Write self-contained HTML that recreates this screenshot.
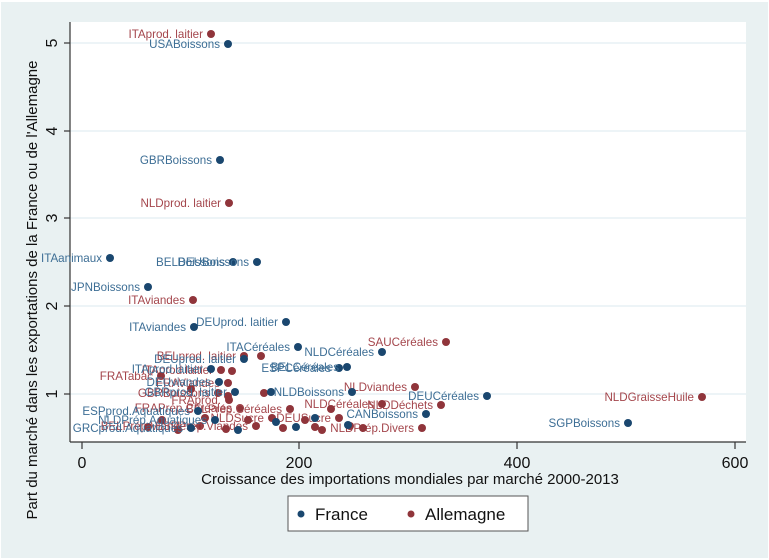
<!DOCTYPE html>
<html><head><meta charset="utf-8"><style>
html,body{margin:0;padding:0;background:#fff}
svg{display:block}
text{font-family:"Liberation Sans",Arial,sans-serif}
.lb{fill:#3d6e95;font-size:11.6px}
.lr{fill:#a4464c;font-size:11.6px}
</style></head><body>
<svg width="769" height="560" viewBox="0 0 769 560" xmlns="http://www.w3.org/2000/svg">
<rect x="1" y="2" width="767" height="556" fill="#e9f1f2"/>
<rect x="70" y="22" width="676" height="420" fill="#fff"/>
<g stroke="#e2eef2" stroke-width="1.2">
<line x1="70" y1="43" x2="746" y2="43"/><line x1="70" y1="131" x2="746" y2="131"/>
<line x1="70" y1="218" x2="746" y2="218"/><line x1="70" y1="306" x2="746" y2="306"/>
<line x1="70" y1="394" x2="746" y2="394"/>
</g>
<g stroke="#333" stroke-width="1.2" fill="none">
<line x1="70" y1="22" x2="70" y2="442"/><line x1="70" y1="442" x2="746" y2="442"/>
<line x1="64" y1="43" x2="70" y2="43"/><line x1="64" y1="131" x2="70" y2="131"/><line x1="64" y1="218" x2="70" y2="218"/><line x1="64" y1="306" x2="70" y2="306"/><line x1="64" y1="394" x2="70" y2="394"/>
<line x1="82" y1="442" x2="82" y2="449"/><line x1="299" y1="442" x2="299" y2="449"/><line x1="517" y1="442" x2="517" y2="449"/><line x1="735" y1="442" x2="735" y2="449"/>
</g>
<g font-size="16" fill="#111" text-anchor="middle">
<text transform="translate(57,43) rotate(-90)">5</text>
<text transform="translate(57,131) rotate(-90)">4</text>
<text transform="translate(57,218) rotate(-90)">3</text>
<text transform="translate(57,306) rotate(-90)">2</text>
<text transform="translate(57,394) rotate(-90)">1</text>
<text x="82" y="468">0</text><text x="299" y="468">200</text><text x="517" y="468">400</text><text x="735" y="468">600</text>
</g>
<g font-size="15" fill="#111" text-anchor="middle">
<text x="410" y="484">Croissance des importations mondiales par marché 2000-2013</text>
<text transform="translate(37,290) rotate(-90)">Part du marché dans les exportations de la France ou de l'Allemagne</text>
</g>
<g text-anchor="end">
<circle cx="211" cy="34" r="4" fill="#90353b"/><text class="lr" x="203" y="38">ITAprod. laitier</text>
<circle cx="229" cy="203" r="4" fill="#90353b"/><text class="lr" x="221" y="207">NLDprod. laitier</text>
<circle cx="193" cy="300" r="4" fill="#90353b"/><text class="lr" x="185" y="304">ITAviandes</text>
<circle cx="446" cy="342" r="4" fill="#90353b"/><text class="lr" x="438" y="346">SAUCéréales</text>
<circle cx="415" cy="387" r="4" fill="#90353b"/><text class="lr" x="407" y="391">NLDviandes</text>
<circle cx="702" cy="397" r="4" fill="#90353b"/><text class="lr" x="694" y="401">NLDGraisseHuile</text>
<circle cx="441" cy="405" r="4" fill="#90353b"/><text class="lr" x="433" y="409">NLDDéchets</text>
<circle cx="382" cy="404" r="4" fill="#90353b"/><text class="lr" x="374" y="408">NLDCéréales</text>
<circle cx="422" cy="428" r="4" fill="#90353b"/><text class="lr" x="414" y="432">NLDPrép.Divers</text>
<circle cx="244" cy="356" r="4" fill="#90353b"/><text class="lr" x="236" y="360">BELprod. laitier</text>
<circle cx="261" cy="356" r="4" fill="#90353b"/>
<circle cx="221" cy="370" r="4" fill="#90353b"/><text class="lr" x="213" y="374">ITAprod.laitier</text>
<circle cx="161" cy="376" r="4" fill="#90353b"/><text class="lr" x="153" y="380">FRATabac</text>
<circle cx="228" cy="383" r="4" fill="#90353b"/><text class="lr" x="220" y="387">FRAViandes</text>
<circle cx="218" cy="393" r="4" fill="#90353b"/><text class="lr" x="210" y="397">GBRBoissons</text>
<circle cx="229" cy="400" r="4" fill="#90353b"/><text class="lr" x="221" y="404">FRAprod.</text>
<circle cx="240" cy="408" r="4" fill="#90353b"/><text class="lr" x="232" y="412">FRAPrép.Céréales</text>
<circle cx="290" cy="409" r="4" fill="#90353b"/><text class="lr" x="282" y="413">BELPrép.Céréales</text>
<circle cx="331" cy="409" r="4" fill="#90353b"/>
<circle cx="272" cy="418" r="4" fill="#90353b"/><text class="lr" x="264" y="422">NLDSucre</text>
<circle cx="339" cy="418" r="4" fill="#90353b"/><text class="lr" x="331" y="422">DEUSucre</text>
<circle cx="200" cy="426" r="4" fill="#90353b"/><text class="lr" x="192" y="430">BELPrép.Viandes</text>
<circle cx="256" cy="426" r="4" fill="#90353b"/><text class="lr" x="248" y="430">ESPPrép.Viandes</text>
<circle cx="315" cy="427" r="4" fill="#90353b"/>
<circle cx="363" cy="428" r="4" fill="#90353b"/>
<circle cx="178" cy="430" r="4" fill="#90353b"/>
<circle cx="226" cy="429" r="4" fill="#90353b"/>
<circle cx="283" cy="428" r="4" fill="#90353b"/>
<circle cx="350" cy="426" r="4" fill="#90353b"/>
<circle cx="264" cy="393" r="4" fill="#90353b"/>
<circle cx="191" cy="389" r="4" fill="#90353b"/>
<circle cx="205" cy="418" r="4" fill="#90353b"/>
<circle cx="248" cy="420" r="4" fill="#90353b"/>
<circle cx="305" cy="420" r="4" fill="#90353b"/>
<circle cx="322" cy="430" r="4" fill="#90353b"/>
<circle cx="162" cy="420" r="4" fill="#90353b"/>
<circle cx="148" cy="427" r="4" fill="#90353b"/>
<circle cx="228" cy="396" r="4" fill="#90353b"/>
<circle cx="232" cy="371" r="4" fill="#90353b"/>
<circle cx="228" cy="44" r="4" fill="#1a476f"/><text class="lb" x="220" y="48">USABoissons</text>
<circle cx="220" cy="160" r="4" fill="#1a476f"/><text class="lb" x="212" y="164">GBRBoissons</text>
<circle cx="110" cy="258" r="4" fill="#1a476f"/><text class="lb" x="102" y="262">ITAanimaux</text>
<circle cx="233" cy="262" r="4" fill="#1a476f"/><text class="lb" x="225" y="266">BELBoissons</text>
<circle cx="257" cy="262" r="4" fill="#1a476f"/><text class="lb" x="249" y="266">DEUBoissons</text>
<circle cx="148" cy="287" r="4" fill="#1a476f"/><text class="lb" x="140" y="291">JPNBoissons</text>
<circle cx="286" cy="322" r="4" fill="#1a476f"/><text class="lb" x="278" y="326">DEUprod. laitier</text>
<circle cx="194" cy="327" r="4" fill="#1a476f"/><text class="lb" x="186" y="331">ITAviandes</text>
<circle cx="298" cy="347" r="4" fill="#1a476f"/><text class="lb" x="290" y="351">ITACéréales</text>
<circle cx="382" cy="352" r="4" fill="#1a476f"/><text class="lb" x="374" y="356">NLDCéréales</text>
<circle cx="339" cy="368" r="4" fill="#1a476f"/><text class="lb" x="331" y="372">ESPCéréales</text>
<circle cx="347" cy="367" r="4" fill="#1a476f"/><text class="lb" x="339" y="371">BELCéréales</text>
<circle cx="244" cy="359" r="4" fill="#1a476f"/><text class="lb" x="236" y="363">DEUprod. laitier</text>
<circle cx="211" cy="369" r="4" fill="#1a476f"/><text class="lb" x="203" y="373">ITAprod.laitier</text>
<circle cx="219" cy="382" r="4" fill="#1a476f"/><text class="lb" x="211" y="386">DEUviandes</text>
<circle cx="235" cy="392" r="4" fill="#1a476f"/><text class="lb" x="227" y="396">GBRprod. laitier</text>
<circle cx="271" cy="392" r="4" fill="#1a476f"/>
<circle cx="352" cy="392" r="4" fill="#1a476f"/><text class="lb" x="344" y="396">NLDBoissons</text>
<circle cx="487" cy="396" r="4" fill="#1a476f"/><text class="lb" x="479" y="400">DEUCéréales</text>
<circle cx="628" cy="423" r="4" fill="#1a476f"/><text class="lb" x="620" y="427">SGPBoissons</text>
<circle cx="426" cy="414" r="4" fill="#1a476f"/><text class="lb" x="418" y="418">CANBoissons</text>
<circle cx="198" cy="411" r="4" fill="#1a476f"/><text class="lb" x="190" y="415">ESPprod.Aquatiques</text>
<circle cx="215" cy="420" r="4" fill="#1a476f"/><text class="lb" x="207" y="424">NLDPrép.Aquatiques</text>
<circle cx="191" cy="428" r="4" fill="#1a476f"/><text class="lb" x="183" y="432">GRCprod.Aquatiques</text>
<circle cx="238" cy="430" r="4" fill="#1a476f"/>
<circle cx="276" cy="422" r="4" fill="#1a476f"/>
<circle cx="315" cy="418" r="4" fill="#1a476f"/>
<circle cx="348" cy="425" r="4" fill="#1a476f"/>
<circle cx="296" cy="427" r="4" fill="#1a476f"/>
</g>
<rect x="288" y="496" width="240" height="35" fill="#fff" stroke="#555" stroke-width="1"/>
<circle cx="301" cy="514" r="3.5" fill="#1a476f"/>
<text x="315" y="520" font-size="17" fill="#111">France</text>
<circle cx="411" cy="514" r="3.5" fill="#90353b"/>
<text x="425" y="520" font-size="17" fill="#111">Allemagne</text>
</svg>
</body></html>
